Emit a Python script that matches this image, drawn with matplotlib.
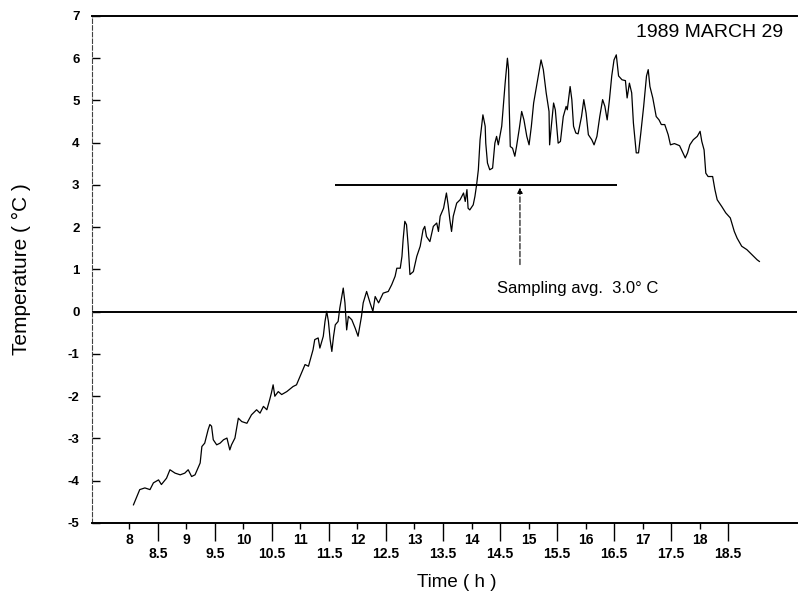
import numpy as np
import matplotlib
matplotlib.use("Agg")
import matplotlib.pyplot as plt

plt.rcParams['font.family'] = ['Liberation Sans', 'DejaVu Sans']

# temperature record, 29 March 1989
time_h = [8.07, 8.18, 8.27, 8.36, 8.42, 8.51, 8.56, 8.65, 8.71, 8.80, 8.89, 8.97,
          9.03, 9.09, 9.15, 9.24, 9.27, 9.32, 9.38, 9.41, 9.44, 9.47, 9.53, 9.59,
          9.65, 9.71, 9.76, 9.79, 9.85, 9.91, 9.97, 10.06, 10.14, 10.23, 10.29, 10.35,
          10.41, 10.46, 10.49, 10.52, 10.55, 10.61, 10.67, 10.76, 10.87, 10.93,
          11.08, 11.14, 11.22, 11.25, 11.31, 11.34, 11.40, 11.43, 11.46, 11.49, 11.52,
          11.55, 11.58, 11.61, 11.66, 11.69, 11.75, 11.78, 11.81, 11.84, 11.90, 11.96,
          12.01, 12.07, 12.10, 12.16, 12.22, 12.27, 12.31, 12.37, 12.45, 12.54, 12.60,
          12.66, 12.69, 12.75, 12.78, 12.80, 12.83, 12.86, 12.89, 12.92, 12.98, 13.04,
          13.10, 13.15, 13.18, 13.21, 13.27, 13.33, 13.39, 13.42, 13.45, 13.51, 13.56,
          13.59, 13.62, 13.65, 13.68, 13.74, 13.80, 13.86, 13.89, 13.92, 13.94, 13.97,
          14.03, 14.06, 14.09, 14.12, 14.15, 14.20, 14.24, 14.25, 14.28, 14.32, 14.37,
          14.41, 14.44, 14.47, 14.53, 14.59, 14.63, 14.65, 14.66, 14.68, 14.72, 14.76,
          14.79, 14.84, 14.88, 14.92, 14.97, 15.01, 15.05, 15.09, 15.14, 15.20, 15.22,
          15.26, 15.31, 15.36, 15.37, 15.40, 15.44, 15.47, 15.52, 15.56, 15.61, 15.66,
          15.68, 15.73, 15.76, 15.79, 15.83, 15.87, 15.93, 15.97, 16.01, 16.05, 16.11,
          16.15, 16.20, 16.25, 16.30, 16.34, 16.38, 16.42, 16.46, 16.50, 16.54, 16.58,
          16.64, 16.70, 16.73, 16.77, 16.81, 16.84, 16.89, 16.93, 16.97, 17.02, 17.07,
          17.10, 17.13, 17.18, 17.24, 17.29, 17.33, 17.39, 17.45, 17.49, 17.56, 17.65,
          17.75, 17.79, 17.83, 17.89, 17.96, 18.01, 18.04, 18.08, 18.11, 18.15, 18.23,
          18.27, 18.31, 18.39, 18.46, 18.54, 18.61, 18.66, 18.74, 18.83, 18.92, 19.01,
          19.05]
temp_c = [-4.57, -4.21, -4.17, -4.21, -4.05, -3.98, -4.09, -3.94, -3.74, -3.82, -3.86, -3.82,
          -3.74, -3.90, -3.86, -3.58, -3.19, -3.11, -2.79, -2.67, -2.71, -3.03, -3.15, -3.11,
          -3.03, -2.99, -3.27, -3.15, -2.99, -2.52, -2.60, -2.64, -2.44, -2.32, -2.40, -2.24,
          -2.32, -2.08, -1.92, -1.73, -2.00, -1.89, -1.96, -1.89, -1.77, -1.73,
          -1.25, -1.29, -0.90, -0.66, -0.62, -0.86, -0.58, -0.23, 0.01, -0.23, -0.66,
          -0.94, -0.58, -0.31, -0.23, 0.09, 0.56, 0.21, -0.43, -0.11, -0.19, -0.39,
          -0.58, -0.11, 0.21, 0.48, 0.21, 0.01, 0.36, 0.21, 0.44, 0.48, 0.64,
          0.84, 1.03, 1.03, 1.31, 1.70, 2.14, 2.06, 1.55, 0.88, 0.95, 1.31,
          1.55, 1.94, 2.02, 1.78, 1.66, 2.02, 2.10, 1.90, 2.26, 2.45, 2.81,
          2.53, 2.18, 1.90, 2.26, 2.57, 2.65, 2.81, 2.61, 2.89, 2.45, 2.41,
          2.53, 2.73, 3.01, 3.36, 4.07, 4.66, 4.39, 3.99, 3.52, 3.36, 3.40,
          3.99, 4.15, 3.95, 4.39, 5.41, 6.00, 5.73, 4.94, 3.91, 3.87, 3.68,
          3.91, 4.35, 4.74, 4.54, 4.15, 3.95, 4.39, 4.94, 5.33, 5.81, 5.96,
          5.73, 5.18, 4.74, 3.95, 4.39, 4.94, 4.78, 3.99, 4.03, 4.62, 4.86,
          4.78, 5.33, 5.02, 4.39, 4.23, 4.21, 4.62, 5.02, 4.70, 4.19, 4.07,
          3.95, 4.15, 4.62, 5.02, 4.86, 4.54, 5.02, 5.58, 5.96, 6.08, 5.58,
          5.49, 5.47, 5.06, 5.41, 5.18, 4.47, 3.76, 3.76, 4.23, 4.86, 5.58,
          5.73, 5.33, 5.06, 4.62, 4.54, 4.43, 4.43, 4.19, 3.95, 3.98, 3.93,
          3.64, 3.76, 3.95, 4.07, 4.15, 4.27, 4.03, 3.83, 3.28, 3.20, 3.20,
          2.89, 2.65, 2.49, 2.34, 2.22, 1.90, 1.74, 1.55, 1.47, 1.35, 1.23,
          1.19]

# sampling period and its mean temperature
sample_start, sample_end = 11.61, 16.55
sample_avg = 3.0

y_ticks = list(range(-5, 8))
hour_ticks = list(range(8, 19))
half_ticks = [h + 0.5 for h in range(8, 19)]

fig = plt.figure(figsize=(7.99, 5.96), dpi=100)
ax = fig.add_axes([0.1151, 0.1225, 0.8824, 0.8507])

ax.plot(time_h, temp_c, color='black', lw=0.9)

ax.axhline(0, color='black', lw=1.4)
ax.hlines(sample_avg, sample_start, sample_end, color='black', lw=1.4)
ax.annotate('', xy=(14.85, sample_avg), xytext=(14.85, 1.05),
            arrowprops=dict(arrowstyle='-|>', color='black', lw=0.8,
                            mutation_scale=8, linestyle=(0, (5, 2))))
ax.text(14.45, 0.54, 'Sampling avg.  3.0\u00b0 C', fontsize=12, va='center', ha='left')
ax.text(19.46, 6.6, '1989 MARCH 29', fontsize=14, va='center', ha='right')

ax.set_xlim(7.342, 19.71)
ax.set_ylim(-5, 7)

ax.spines['right'].set_visible(False)
ax.spines['top'].set_linewidth(1.4)
ax.spines['bottom'].set_linewidth(1.4)
ax.spines['left'].set_linewidth(0.8)
ax.spines['left'].set_linestyle((0, (4, 2)))
ax.spines['left'].set_color('0.25')

ax.set_yticks(y_ticks)
ax.set_yticklabels([str(v) for v in y_ticks], fontsize=9.5, fontweight='bold')
ax.tick_params(axis='y', direction='in', length=6, width=1, pad=9)

ax.set_xticks(hour_ticks)
ax.set_xticklabels([str(h) for h in hour_ticks], fontsize=10, fontweight='bold')
ax.set_xticks(half_ticks, minor=True)
ax.set_xticklabels([f'{h:.1f}' for h in half_ticks], minor=True, fontsize=10, fontweight='bold')
ax.tick_params(axis='x', which='major', direction='out', length=4, width=1, pad=3)
ax.tick_params(axis='x', which='minor', direction='out', length=13, width=1, pad=4)

ax.set_xlabel('Time ( h )', fontsize=13.5, labelpad=10, x=0.518)
ax.set_ylabel('Temperature ( \u00b0C )', fontsize=15, labelpad=26)

fig.savefig('out.png', dpi=100)
